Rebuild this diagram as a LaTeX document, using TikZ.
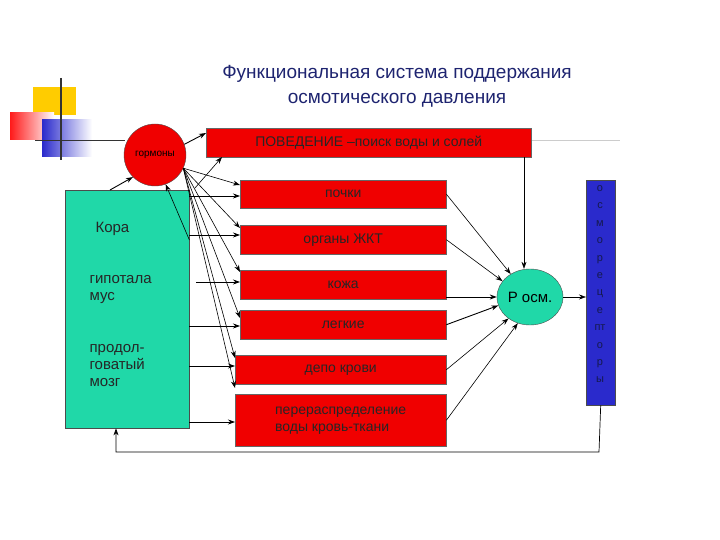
\documentclass[tikz,border=0pt]{standalone}
\usepackage{fontspec}
\setmainfont{Liberation Sans}
\usetikzlibrary{arrows.meta,shapes.geometric}
\definecolor{navy}{HTML}{1E2470}
\definecolor{boxred}{HTML}{F00000}
\definecolor{teal}{HTML}{20D8A8}
\definecolor{rblue}{HTML}{2A2ACC}
\definecolor{yel}{HTML}{FFCC00}
\tikzset{
  redbox/.style={draw=black!60, fill=boxred, anchor=north west, inner sep=4pt, align=left, font=\fontsize{14}{16}\selectfont, text=black!85},
  arr/.style={-{Stealth[length=7pt,width=5pt]}, black, line width=0.9pt},
  thin/.style={-{Stealth[length=7pt,width=5pt]}, black, line width=0.6pt},
  lbl/.style={font=\fontsize{15}{17}\selectfont, text=black!85, anchor=west, align=left}
}
\begin{document}
\begin{tikzpicture}[x=1pt,y=-1pt]
\useasboundingbox (0,0) rectangle (720,540);
% decoration
\fill[yel] (33,87) rectangle (76,115);
\shade[left color=red!90, right color=white] (10,113) rectangle (54,140);
\shade[left color=rblue, right color=white] (42,120) rectangle (92,157);
\draw[black!60!gray, line width=1pt] (35,141) -- (125,141);
\draw[gray!40, line width=1pt] (530,141) -- (620,141);
\draw[black!80, line width=2pt] (61,78) -- (61,160);
% title
\node[text=navy, font=\fontsize{19}{25}\selectfont, align=center] (title) at (397,86) {Функциональная система поддержания\\осмотического давления};
% nodes
\node[circle, draw=black!70, fill=boxred, minimum size=62pt, inner sep=0pt, font=\fontsize{10}{12}\selectfont] (horm) at (155,155) {гормоны};
\node[redbox, minimum width=325pt, minimum height=29pt] (beh) at (206,128) {ПОВЕДЕНИЕ –поиск воды и солей};
\node[draw=black!70, fill=teal, anchor=north west, minimum width=124pt, minimum height=238pt] (cora) at (65,190) {};
\node[lbl] (t1) at (92,229) {Кора};
\node[lbl] (t2) at (86,290) {гипотала\\мус};
\node[lbl] (t3) at (86,366) {продол-\\говатый\\мозг};
\node[redbox, minimum width=206pt, minimum height=28pt] (b1) at (240,180) {почки};
\node[redbox, minimum width=206pt, minimum height=29pt] (b2) at (240,225) {органы ЖКТ};
\node[redbox, minimum width=206pt, minimum height=29pt] (b3) at (240,270) {кожа};
\node[redbox, minimum width=206pt, minimum height=29pt] (b4) at (240,310) {легкие};
\node[redbox, minimum width=211pt, minimum height=29pt] (b5) at (235,355) {депо крови};
\node[redbox, minimum width=211pt, minimum height=52pt, font=\fontsize{14}{17}\selectfont] (b6) at (235,394) {перераспределение\\воды кровь-ткани};
\node[ellipse, draw=black!70, fill=teal, minimum width=66pt, minimum height=56pt, inner sep=0pt, font=\fontsize{15}{17}\selectfont] (posm) at (530,297) {Р осм.};
\node[draw=black!70, fill=rblue, anchor=north west, minimum width=29pt, minimum height=225pt] (rec) at (586,180) {};
\node[text=navy!70!black, font=\fontsize{11}{17.4}\selectfont, align=center, anchor=north] (rect) at (600,182) {о\\с\\м\\о\\р\\е\\ц\\е\\пт\\о\\р\\ы};
% feedback
\coordinate (fb1) at (599,452);
\coordinate (fb2) at (116,452);
\draw[arr, line width=0.7pt] (rec.south) -- (fb1) -- (fb2) -- (cora.south -| fb2);
% cora to hormones
\draw[arr] (110,190) -- (horm.225);
\draw[thin] (cora.east |- 0,240) -- (horm.-70);
% hormones to behaviour and boxes
\draw[arr] (horm.20) -- (beh.west |- 0,133);
\draw[thin] (195,188) -- (222,157);
\foreach \b/\y in {b1/185, b2/228, b3/272, b4/318, b5/358, b6/388}{
  \draw[thin] (horm.-25) -- (\b.west |- 0,\y);
}
% cora to boxes
\foreach \b/\y/\x in {b1/196/189, b2/235/189, b3/282/196, b4/326/189, b5/366/189, b6/422/189}{
  \draw[arr, line width=0.7pt] (\x,\y) -- (\b.west |- 0,\y);
}
% boxes to Posm
\draw[thin] (524,157) -- (posm.north -| 524,0);
\draw[thin] (b1.east) -- (posm.130);
\draw[thin] (b2.east) -- (posm.150);
\draw[arr] (b3.east |- posm.west) -- (posm.west);
\draw[arr] (b4.east) -- (posm.195);
\draw[thin] (b5.east) -- (posm.225);
\draw[thin] (b6.east) -- (posm.245);
\draw[thin] (posm.east) -- (rec.west |- posm.east);
\end{tikzpicture}
\end{document}
